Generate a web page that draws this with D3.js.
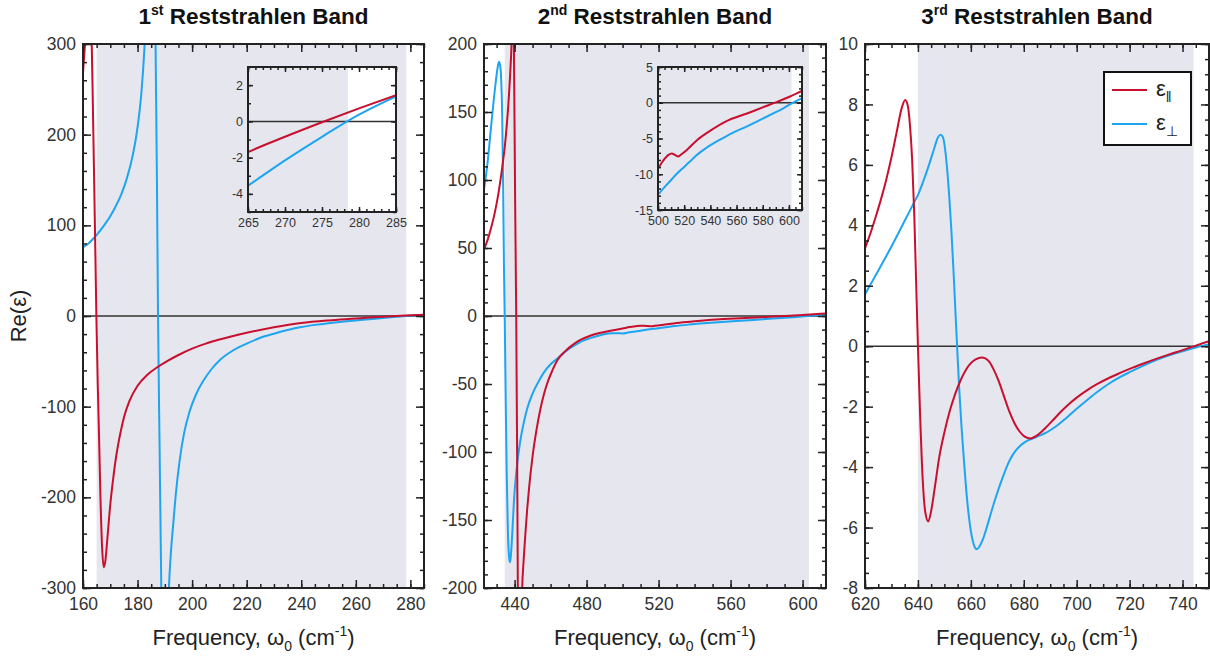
<!DOCTYPE html>
<html>
<head>
<meta charset="utf-8">
<script src="https://cdn.jsdelivr.net/npm/d3@7"></script>
<style>
  body { margin: 0; background: #fff; }
  svg { font-family: "Liberation Sans", Arial, Helvetica, sans-serif; }
</style>
</head>
<body>
<div id="chart"></div>
<script>
// ---- data: [frequency (cm-1), Re(eps)] ----
const band1Par = [[160, 268], [160.5, 290], [161, 312], [161.6, 360], [162.2, 370], [162.8, 330], [163.2, 300], [163.6, 235], [164, 165], [164.5, 75], [164.9, 0], [165.4, -75], [165.9, -135], [166.4, -200], [167, -255], [167.6, -277], [168.2, -270], [169, -243], [170, -208], [171, -181], [172, -158], [173, -140], [174, -125], [175, -112], [177, -94], [180, -77], [183.5, -65], [187.5, -56], [191, -49.5], [195, -43], [200, -36], [205, -30.5], [210, -26], [220, -18.5], [230, -12.5], [240, -7.8], [250, -4.9], [260, -2.8], [265, -1.7], [270, -0.85], [275, -0.05], [280, 0.72], [285, 1.45]];
const band1Perp = [[160, 76], [162, 80], [164, 86], [166, 93], [168, 101], [170, 110], [172, 121], [174, 134], [176, 151], [178, 174], [179.5, 198], [180.5, 220], [181.4, 246], [182, 270], [182.6, 300], [183.4, 360], [184.4, 430], [185.3, 440], [186, 380], [186.6, 300], [187.1, 150], [187.5, 0], [188.1, -150], [188.7, -300], [189.4, -420], [190.4, -430], [191.5, -300], [192.2, -262], [193, -232], [194, -197], [195.4, -160], [197, -130], [199, -106], [201.5, -86], [204, -72], [207, -59], [210, -49], [215, -38], [220, -30.5], [225, -24], [230, -19.5], [235, -15.5], [240, -12.2], [245, -9.8], [250, -7.9], [255, -6.3], [260, -4.9], [265, -3.55], [270, -2.15], [275, -0.85], [278.4, 0], [280, 0.37], [285, 1.38]];

const band2Par = [[423, 49], [425, 56], [427, 65], [429, 76], [431, 90], [433, 108], [434.5, 124], [435.5, 138], [436.5, 155], [437.5, 177], [438.3, 200], [439, 240], [439.6, 200], [440.3, 85], [440.9, 0], [441.4, -100], [441.8, -200], [442.4, -260], [443.3, -255], [444.2, -200], [445, -180], [446, -160], [447, -142], [448, -127], [450, -103], [452, -85], [454.4, -68], [456, -59], [458, -50], [461, -40], [464, -32], [468, -26], [471, -22.5], [476, -18], [482, -14.5], [488, -12.3], [495, -10.5], [500, -9.2], [504, -8.1], [508, -7.3], [510.5, -7.1], [513, -7.3], [515.5, -7.5], [518, -7.2], [522, -6.6], [530, -5.2], [540, -3.9], [552, -2.6], [568, -1.5], [580, -0.65], [590, 0.05], [600, 0.8], [610, 1.65], [613, 1.9]];
const band2Perp = [[423, 93], [425, 113], [427, 140], [429, 166], [430.5, 182], [431.3, 187], [432, 184], [432.6, 172], [433.1, 148], [433.6, 100], [434.1, 35], [434.5, 0], [435, -55], [435.6, -115], [436.3, -160], [437, -178], [437.5, -181], [438, -175], [438.7, -160], [439.6, -137], [441, -114], [443, -93], [445, -79], [447, -68], [450, -57], [453, -49], [456, -42], [460, -35.5], [464, -31], [468, -26.5], [471, -23.5], [476, -19.5], [482, -16.3], [488, -14], [494, -12.6], [498, -12.7], [500, -12.8], [503, -12.2], [506, -11.6], [510, -10.8], [514, -10.0], [518, -9.3], [524, -8.3], [529, -7.4], [537, -6.3], [547, -5.2], [557, -4.2], [568, -3.3], [578, -2.4], [588, -1.5], [595, -0.85], [601, -0.2], [610, 0.65], [613, 0.9]];

const band3Par = [[620, 3.24], [622, 3.72], [624, 4.27], [626, 4.85], [628, 5.5], [630, 6.25], [632, 7.1], [634, 7.92], [635.2, 8.15], [636.2, 7.95], [637, 7.3], [637.8, 6.2], [638.6, 4.4], [639.3, 2.2], [640, 0], [640.8, -2.2], [641.8, -4.4], [642.8, -5.5], [643.9, -5.8], [645, -5.45], [646.5, -4.6], [648, -3.7], [650, -2.85], [652, -2.15], [654, -1.6], [656, -1.15], [658, -0.8], [660, -0.56], [662, -0.43], [664, -0.37], [665.5, -0.4], [667, -0.52], [668.5, -0.75], [670.5, -1.15], [672.5, -1.65], [674.5, -2.15], [676.5, -2.55], [678.5, -2.83], [680.5, -3.0], [682.5, -3.05], [685, -2.95], [688, -2.72], [691, -2.45], [694, -2.17], [697, -1.92], [700, -1.7], [704, -1.45], [708, -1.24], [712, -1.06], [716, -0.9], [720, -0.75], [725, -0.58], [730, -0.42], [735, -0.27], [740, -0.13], [745, 0.02], [750, 0.17]];
const band3Perp = [[620, 1.72], [625, 2.5], [630, 3.3], [635, 4.15], [638.5, 4.75], [640, 5.0], [642, 5.45], [644, 5.95], [646, 6.5], [647.5, 6.9], [648.5, 7.0], [649.5, 6.9], [650.3, 6.5], [651, 5.9], [651.8, 5.0], [652.6, 3.9], [653.5, 2.4], [654.2, 1.1], [654.8, 0], [655.6, -1.4], [656.5, -2.7], [657.5, -3.9], [658.5, -5.0], [659.5, -5.8], [660.5, -6.35], [661.5, -6.65], [662.3, -6.72], [663.3, -6.62], [664.5, -6.4], [666, -6.0], [668, -5.4], [670, -4.85], [672, -4.35], [674, -3.9], [676, -3.57], [678, -3.35], [680, -3.2], [682, -3.1], [684, -3.03], [686, -2.96], [688, -2.88], [690, -2.78], [693, -2.6], [696, -2.38], [700, -2.07], [704, -1.78], [708, -1.5], [712, -1.25], [716, -1.04], [720, -0.86], [725, -0.65], [730, -0.46], [735, -0.3], [740, -0.17], [745, -0.04], [750, 0.07]];

// axis ticks and band limits
const band1XTicks = [160, 180, 200, 220, 240, 260, 280];
const band1YTicks = [-300, -200, -100, 0, 100, 200, 300];
const band2XTicks = [440, 480, 520, 560, 600];
const band2YTicks = [-200, -150, -100, -50, 0, 50, 100, 150, 200];
const band3XTicks = [620, 640, 660, 680, 700, 720, 740];
const band3YTicks = [-8, -6, -4, -2, 0, 2, 4, 6, 8, 10];
const inset1XTicks = [265, 270, 275, 280, 285];
const inset1YTicks = [-4, -2, 0, 2];
const inset2XTicks = [500, 520, 540, 560, 580, 600];
const inset2YTicks = [-15, -10, -5, 0, 5];
const bandLimits = [[165, 278.5], [434.5, 603.5], [640, 744.2]];
const ordinals = ["st", "nd", "rd"];

const red = "#c8102e", blue = "#1ea5f0", shade = "#e6e6ee", ink = "#222";

const width = 1210, height = 658;
const plotTop = 44, plotBottom = 588;

const svg = d3.select("#chart").append("svg")
  .attr("width", width).attr("height", height);

const panels = [
  { px: [83, 424], xd: [160, 285], yd: [-300, 300], xt: band1XTicks, xm: d3.range(160, 286, 5), yt: band1YTicks, ym: d3.range(-300, 301, 20), par: band1Par, perp: band1Perp,
    inset: { px: [248, 396], py: [67, 212], xd: [265, 285], yd: [-5, 3], xt: inset1XTicks, xm: d3.range(265, 286, 1), yt: inset1YTicks, ym: d3.range(-5, 4, 1), shadeEnd: 278.5 } },
  { px: [484, 826], xd: [423, 613], yd: [-200, 200], xt: band2XTicks, xm: d3.range(430, 613, 10), yt: band2YTicks, ym: d3.range(-200, 201, 10), par: band2Par, perp: band2Perp,
    inset: { px: [658, 802], py: [67, 210], xd: [500, 610], yd: [-15, 5], xt: inset2XTicks, xm: d3.range(500, 611, 5), yt: inset2YTicks, ym: d3.range(-15, 6, 1), shadeEnd: 602 } },
  { px: [865, 1209], xd: [620, 750], yd: [-8, 10], xt: band3XTicks, xm: d3.range(620, 751, 5), yt: band3YTicks, ym: d3.range(-8, 10.1, 0.5), par: band3Par, perp: band3Perp }
];

const strip = g => g.select(".domain").remove();

// inward ticks on all four sides, labels only bottom + left
function drawTicks(g, x, y, xt, xm, yt, ym, o) {
  const [xl, xr] = x.range(), [yb, yt0] = y.range();
  const fmt = d => `${d}`;
  g.append("g").attr("transform", `translate(0,${yb})`).call(d3.axisBottom(x).tickValues(xm).tickSize(-o.minor).tickFormat("")).call(strip);
  g.append("g").attr("transform", `translate(0,${yt0})`).call(d3.axisTop(x).tickValues(xm).tickSize(-o.minor).tickFormat("")).call(strip);
  g.append("g").attr("transform", `translate(${xl},0)`).call(d3.axisLeft(y).tickValues(ym).tickSize(-o.minor).tickFormat("")).call(strip);
  g.append("g").attr("transform", `translate(${xr},0)`).call(d3.axisRight(y).tickValues(ym).tickSize(-o.minor).tickFormat("")).call(strip);

  g.append("g").attr("transform", `translate(0,${yb})`).call(d3.axisBottom(x).tickValues(xt).tickSize(-o.major).tickPadding(o.padX).tickFormat(fmt)).call(strip);
  g.append("g").attr("transform", `translate(0,${yt0})`).call(d3.axisTop(x).tickValues(xt).tickSize(-o.major).tickFormat("")).call(strip);
  g.append("g").attr("transform", `translate(${xl},0)`).call(d3.axisLeft(y).tickValues(yt).tickSize(-o.major).tickPadding(o.padY).tickFormat(fmt)).call(strip);
  g.append("g").attr("transform", `translate(${xr},0)`).call(d3.axisRight(y).tickValues(yt).tickSize(-o.major).tickFormat("")).call(strip);

  g.selectAll(".tick line").attr("stroke", ink).attr("stroke-width", 1.5);
  g.selectAll(".tick text").attr("fill", "#333").attr("font-size", o.fs)
    .attr("font-family", "Liberation Sans, Arial, sans-serif");

  g.append("rect")
    .attr("x", xl).attr("y", yt0).attr("width", xr - xl).attr("height", yb - yt0)
    .attr("fill", "none").attr("stroke", ink).attr("stroke-width", 2);
}

function drawCurves(g, x, y, par, perp, id, lw) {
  const [xl, xr] = x.range(), [yb, yt0] = y.range();
  g.append("clipPath").attr("id", id)
    .append("rect").attr("x", xl).attr("y", yt0).attr("width", xr - xl).attr("height", yb - yt0);
  const c = g.append("g").attr("clip-path", `url(#${id})`);

  c.append("line")
    .attr("x1", xl).attr("x2", xr).attr("y1", y(0)).attr("y2", y(0))
    .attr("stroke", "#333").attr("stroke-width", 1.5);

  const line = d3.line().x(d => x(d[0])).y(d => y(d[1])).curve(d3.curveMonotoneX);
  c.append("path").datum(perp).attr("d", line)
    .attr("fill", "none").attr("stroke", blue).attr("stroke-width", lw);
  c.append("path").datum(par).attr("d", line)
    .attr("fill", "none").attr("stroke", red).attr("stroke-width", lw);
}

panels.forEach((p, i) => {
  const g = svg.append("g");
  const x = d3.scaleLinear().domain(p.xd).range(p.px);
  const y = d3.scaleLinear().domain(p.yd).range([plotBottom, plotTop]);

  // shaded Reststrahlen band
  g.append("rect")
    .attr("x", x(bandLimits[i][0])).attr("y", plotTop)
    .attr("width", x(bandLimits[i][1]) - x(bandLimits[i][0]))
    .attr("height", plotBottom - plotTop)
    .attr("fill", shade);

  drawCurves(g, x, y, p.par, p.perp, `clip${i}`, 2);
  drawTicks(g, x, y, p.xt, p.xm, p.yt, p.ym, { major: 8, minor: 4, padX: 10, padY: 7, fs: 17.5 });

  // title
  const cx = (p.px[0] + p.px[1]) / 2;
  const t = svg.append("text")
    .attr("x", cx).attr("y", 24)
    .attr("text-anchor", "middle")
    .attr("font-weight", "bold").attr("font-size", 22.5).attr("fill", "#111");
  t.append("tspan").text(i + 1);
  t.append("tspan").attr("font-size", 14).attr("dy", -9).text(ordinals[i]);
  t.append("tspan").attr("dy", 9).text(" Reststrahlen Band");

  // x label
  const xl = svg.append("text")
    .attr("x", cx).attr("y", 645)
    .attr("text-anchor", "middle")
    .attr("font-size", 22).attr("fill", "#222");
  xl.append("tspan").text("Frequency, ω");
  xl.append("tspan").attr("font-size", 14).attr("dy", 6).text("0");
  xl.append("tspan").attr("dy", -6).text(" (cm");
  xl.append("tspan").attr("font-size", 14).attr("dy", -9).text("-1");
  xl.append("tspan").attr("dy", 9).text(")");

  // insets
  if (p.inset) {
    const s = p.inset;
    const ix = d3.scaleLinear().domain(s.xd).range(s.px);
    const iy = d3.scaleLinear().domain(s.yd).range([s.py[1], s.py[0]]);
    const ig = svg.append("g");
    ig.append("rect")
      .attr("x", s.px[0]).attr("y", s.py[0])
      .attr("width", s.px[1] - s.px[0]).attr("height", s.py[1] - s.py[0])
      .attr("fill", "#fff");
    ig.append("rect")
      .attr("x", s.px[0]).attr("y", s.py[0])
      .attr("width", ix(s.shadeEnd) - s.px[0]).attr("height", s.py[1] - s.py[0])
      .attr("fill", shade);
    drawCurves(ig, ix, iy, p.par, p.perp, `iclip${i}`, 2);
    drawTicks(ig, ix, iy, s.xt, s.xm, s.yt, s.ym, { major: 5, minor: 3, padX: 6, padY: 5, fs: 12.5 });
  }
});

// y label
svg.append("text")
  .attr("transform", "translate(26,316) rotate(-90)")
  .attr("text-anchor", "middle")
  .attr("font-size", 22).attr("fill", "#222")
  .text("Re(ε)");

// legend
const leg = svg.append("g");
leg.append("rect")
  .attr("x", 1104).attr("y", 72).attr("width", 87).attr("height", 73)
  .attr("fill", "#fff").attr("stroke", "#111").attr("stroke-width", 2);
[[red, "‖", 90], [blue, "⊥", 124]].forEach(([col, sub, ly]) => {
  leg.append("line")
    .attr("x1", 1112).attr("x2", 1147).attr("y1", ly).attr("y2", ly)
    .attr("stroke", col).attr("stroke-width", 2);
  const lt = leg.append("text")
    .attr("x", 1156).attr("y", ly + 6)
    .attr("font-size", 22).attr("fill", "#222");
  lt.append("tspan").text("ε");
  lt.append("tspan").attr("font-size", 14).attr("dy", 6).text(sub);
});
</script>
</body>
</html>
